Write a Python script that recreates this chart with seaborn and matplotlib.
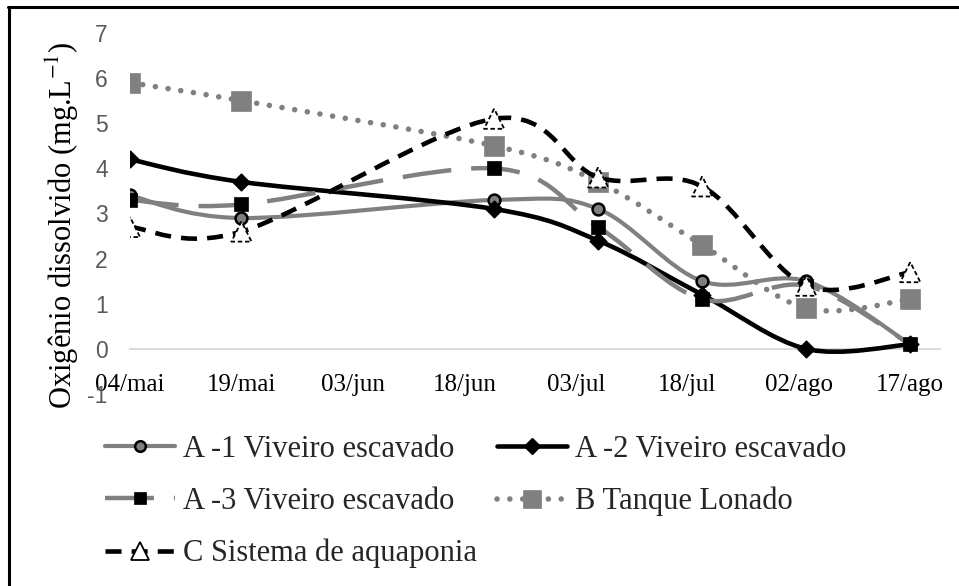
import numpy as np
import pandas as pd
import matplotlib
matplotlib.use("Agg")
import matplotlib.pyplot as plt
import matplotlib.dates as mdates
from matplotlib.path import Path
from matplotlib.patches import PathPatch
from matplotlib.lines import Line2D
import seaborn as sns

# ---------------- data ----------------
sample_dates = ["2019-05-04", "2019-05-19", "2019-06-22", "2019-07-06",
                "2019-07-20", "2019-08-03", "2019-08-17"]
a1_values = [3.4, 2.9, 3.3, 3.1, 1.5, 1.5, 0.1]
a2_values = [4.2, 3.7, 3.1, 2.4, 1.2, 0.0, 0.1]
a3_values = [3.3, 3.2, 4.0, 2.7, 1.1, 1.4, 0.1]
b_values = [5.9, 5.5, 4.5, 3.7, 2.3, 0.9, 1.1]
c_values = [2.7, 2.6, 5.1, 3.8, 3.6, 1.4, 1.7]
series_names = ["A -1 Viveiro escavado", "A -2 Viveiro escavado",
                "A -3 Viveiro escavado", "B Tanque Lonado",
                "C Sistema de aquaponia"]
tick_dates = ["2019-05-04", "2019-05-19", "2019-06-03", "2019-06-18",
              "2019-07-03", "2019-07-18", "2019-08-02", "2019-08-17"]
tick_labels = ["04/mai", "19/mai", "03/jun", "18/jun", "03/jul", "18/jul",
               "02/ago", "17/ago"]
y_ticks = [-1, 0, 1, 2, 3, 4, 5, 6, 7]
y_label = "Oxigênio dissolvido (mg.L$^{-1}$)"

# ---------------- style ----------------
sns.set_theme(style="white")
plt.rcParams["font.family"] = ["Liberation Serif", "DejaVu Sans"]
plt.rcParams["mathtext.fontset"] = "stix"

GRAY = "#808080"
AXIS_GRAY = "#d9d9d9"

styles = [
    dict(color=GRAY, lw=3.0, ls="-", marker="o", ms=8.5, mfc=GRAY, mec="black", mew=1.8),
    dict(color="black", lw=3.3, ls="-", marker="D", ms=8.5, mfc="black", mec="black", mew=1),
    dict(color=GRAY, lw=3.2, ls=(0, (11, 4.5)), marker="s", ms=10, mfc="black", mec="black", mew=0.5),
    dict(color=GRAY, lw=4.0, ls=(0, (0.01, 2.3)), marker="s", ms=14.5, mfc=GRAY, mec=GRAY, mew=0.5),
    dict(color="black", lw=3.3, ls=(0, (3.5, 2.2)), marker="^", ms=14.5, mfc="white", mec="black", mew=1.3),
]

fig = plt.figure(figsize=(9.59, 5.86), dpi=100)
ax = fig.add_axes([130 / 959, 1 - 394 / 586, 810 / 959, 361 / 586])

# axis geometry first (set_position resets ticks)
for s in ["top", "right", "left"]:
    ax.spines[s].set_visible(False)
ax.spines["bottom"].set_position(("data", 0))
ax.spines["bottom"].set_color(AXIS_GRAY)
ax.spines["bottom"].set_linewidth(1.4)

x = mdates.date2num(pd.to_datetime(sample_dates))
all_values = [a1_values, a2_values, a3_values, b_values, c_values]


def smooth_path(xs, ys):
    pts = np.column_stack([xs, ys]).astype(float)
    n = len(pts)
    verts = [pts[0]]
    codes = [Path.MOVETO]
    for i in range(n - 1):
        p0 = pts[i - 1] if i > 0 else pts[i]
        p1 = pts[i]
        p2 = pts[i + 1]
        p3 = pts[i + 2] if i + 2 < n else pts[i + 1]
        c1 = p1 + (p2 - p0) / 6.0
        c2 = p2 - (p3 - p1) / 6.0
        verts += [c1, c2, p2]
        codes += [Path.CURVE4] * 3
    return Path(verts, codes)


for k, (vals, st) in enumerate(zip(all_values, styles)):
    patch = PathPatch(smooth_path(x, vals), fill=False, edgecolor=st["color"],
                      linewidth=st["lw"], linestyle=st["ls"], zorder=2 + k * 2)
    patch.set_capstyle("round" if k == 3 else "butt")
    patch.set_joinstyle("round")
    ax.add_patch(patch)
    df = pd.DataFrame({"date": x, "value": vals})
    edge_ls = (0, (2.5, 1.5)) if k == 4 else "-"
    sns.scatterplot(data=df, x="date", y="value", ax=ax, marker=st["marker"],
                    s=st["ms"] ** 2, color=st["mfc"], edgecolor=st["mec"],
                    linewidth=st["mew"], linestyle=edge_ls, zorder=3 + k * 2,
                    legend=False)

# ---------------- axes ----------------
xt = mdates.date2num(pd.to_datetime(tick_dates))
ax.set_xlim(xt[0], xt[0] + 109)
ax.set_ylim(-1, 7)
ax.set_xticks(xt)
ax.set_xticklabels(tick_labels, fontsize=18, color="black",
                   family=["Liberation Serif"])
ax.set_yticks(y_ticks)
ax.set_yticklabels([str(v) for v in y_ticks], fontsize=16.5, color="#595959",
                   family=["Liberation Sans"])
ax.set_xlabel("")
ax.set_ylabel("")
ax.tick_params(axis="x", direction="out", length=6, width=1.4, color=AXIS_GRAY,
               pad=12, labelsize=18)
ax.tick_params(axis="y", length=0, pad=16)
ax.grid(False)
ax.patch.set_alpha(0)

fig.text(62 / 959, 1 - 225 / 586, y_label, rotation=90, ha="center",
         va="center", fontsize=22, color="black")

# ---------------- legend ----------------
handles = []
for st in styles:
    h = Line2D([], [], color=st["color"], lw=st["lw"], ls=st["ls"],
               marker=st["marker"], markersize=st["ms"] * 0.9,
               markerfacecolor=st["mfc"], markeredgecolor=st["mec"],
               markeredgewidth=st["mew"])
    handles.append(h)
handles[3].set_dash_capstyle("round")
order = [0, 2, 4, 1, 3]
fig.legend([handles[i] for i in order], [series_names[i] for i in order],
           ncol=2, loc="upper left", bbox_to_anchor=(105 / 959, 1 - 435 / 586),
           frameon=False, fontsize=22, handlelength=2.3, handletextpad=0.25,
           columnspacing=0.65, labelspacing=0.75, borderpad=0, borderaxespad=0)

# ---------------- frame (top & left) ----------------
fig.add_artist(Line2D([9 / 959, 9 / 959], [0, 1 - 7 / 586],
                      transform=fig.transFigure, color="black", lw=2.2))
fig.add_artist(Line2D([8.2 / 959, 1], [1 - 7 / 586, 1 - 7 / 586],
                      transform=fig.transFigure, color="black", lw=2.2))

fig.savefig("out.png", dpi=100, facecolor="white")
